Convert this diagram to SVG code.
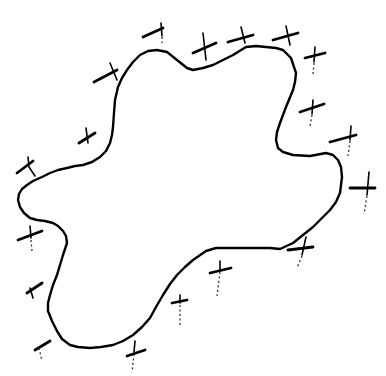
<svg xmlns="http://www.w3.org/2000/svg" width="386" height="376" viewBox="0 0 386 376">
<style>
.blob{fill:none;stroke:#000;stroke-width:2.4;stroke-linejoin:round;stroke-linecap:round}
.h{stroke:#000;stroke-width:2.8;stroke-linecap:round;fill:none}
.v{stroke:#000;stroke-width:1.6;stroke-linecap:round;fill:none}
.d{stroke:#333;stroke-width:1.3;stroke-dasharray:2 2.5;fill:none}
</style>
<rect width="386" height="376" fill="#fff"/>
<g id="outline">
<path class="blob" d="M157,50 L167,52 L177,60 L187,68 L193,70 L203,68 L213,65 L223,60 L233,55 L246,47 L256,46 L266,47 L276,48 L283,50 L291,58 L296,73 L295,82 L293,90 L286,107 L280,123 L277,132 L276,140 L278,148 L283,152 L293,155 L310,156 L326,153 L333,155 L338,160 L341,167 L342,177 L340,193 L336,202 L330,210 L320,220 L313,227 L303,235 L293,243 L280,249 L270,248 L260,248 L236,248 L216,248 L206,251 L193,260 L185,267 L177,275 L170,284 L163,295 L156,307 L150,318 L142,327 L133,335 L123,341 L113,345 L101,347 L90,348 L78,347 L70,345 L62,339 L57,331 L52,321 L48,311 L48,303 L50,295 L53,285 L57,275 L63,255 L67,243 L66,236 L63,231 L58,226 L53,223 L45,221 L37,220 L30,218 L24,213 L20,207 L18,200 L19,194 L22,189 L27,185 L33,181 L42,177 L50,173 L58,170 L67,168 L75,166 L83,165 L92,162 L100,157 L106,151 L110,143 L112,135 L113,127 L114,113 L115,100 L118,87 L122,78 L127,70 L133,62 L140,55 L148,51 Z"/>
</g>
<g id="marks">
<g id="m1"><path class="h" d="M143,37 L163,28"/><path class="v" d="M161,23 L162,36"/><path class="d" d="M162,37 L162,43"/></g>
<g id="m2"><path class="h" d="M94,82 L117,70"/><path class="v" d="M110,63 L117,80"/></g>
<g id="m3"><path class="h" d="M79,143 L95,133"/><path class="v" d="M86,128 L88,143"/></g>
<g id="m4"><path class="h" d="M17,173 L33,161"/><path class="v" d="M28,157 L29,167 L35,176"/></g>
<g id="m5"><path class="h" d="M193,53 L216,43"/><path class="v" d="M203,33 L206,60"/></g>
<g id="m6"><path class="h" d="M228,42 L253,35"/><path class="v" d="M241,27 L245,43"/></g>
<g id="m7"><path class="h" d="M273,40 L298,33"/><path class="v" d="M286,26 L290,45"/></g>
<g id="m8"><path class="h" d="M305,58 L325,53"/><path class="v" d="M315,47 L314,62"/><path class="d" d="M314,63 L313,74"/></g>
<g id="m9"><path class="h" d="M300,112 L324,104"/><path class="v" d="M313,100 L312,114"/><path class="d" d="M312,115 L310,126"/></g>
<g id="m10"><path class="h" d="M330,142 L356,135"/><path class="v" d="M351,126 L350,140"/><path class="d" d="M350,141 L348,156"/></g>
<g id="m11"><path class="h" d="M350,188 L375,188"/><path class="v" d="M369,172 L367,195"/><path class="d" d="M367,196 L364,214"/></g>
<g id="m12"><path class="h" d="M288,250 L313,247"/><path class="v" d="M306,237 L302,255"/><path class="d" d="M302,256 L297,268"/></g>
<g id="m13"><path class="h" d="M210,273 L231,268"/><path class="v" d="M220,261 L220,270"/><path class="d" d="M220,272 L217,296"/></g>
<g id="m14"><path class="h" d="M18,240 L42,231"/><path class="v" d="M30,226 L31,238"/><path class="d" d="M31,240 L32,251"/></g>
<g id="m15"><path class="h" d="M27,293 L42,283"/><path class="v" d="M30,288 L33,298"/></g>
<g id="m16"><path class="h" d="M35,350 L50,341"/><path class="d" d="M39,348 L42,361"/></g>
<g id="m17"><path class="h" d="M127,356 L145,350"/><path class="v" d="M135,341 L134,352"/><path class="d" d="M134,354 L132,372"/></g>
<g id="m18"><path class="h" d="M172,303 L187,300"/><path class="v" d="M180,295 L180,303"/><path class="d" d="M180,305 L180,326"/></g>
</g>
</svg>
